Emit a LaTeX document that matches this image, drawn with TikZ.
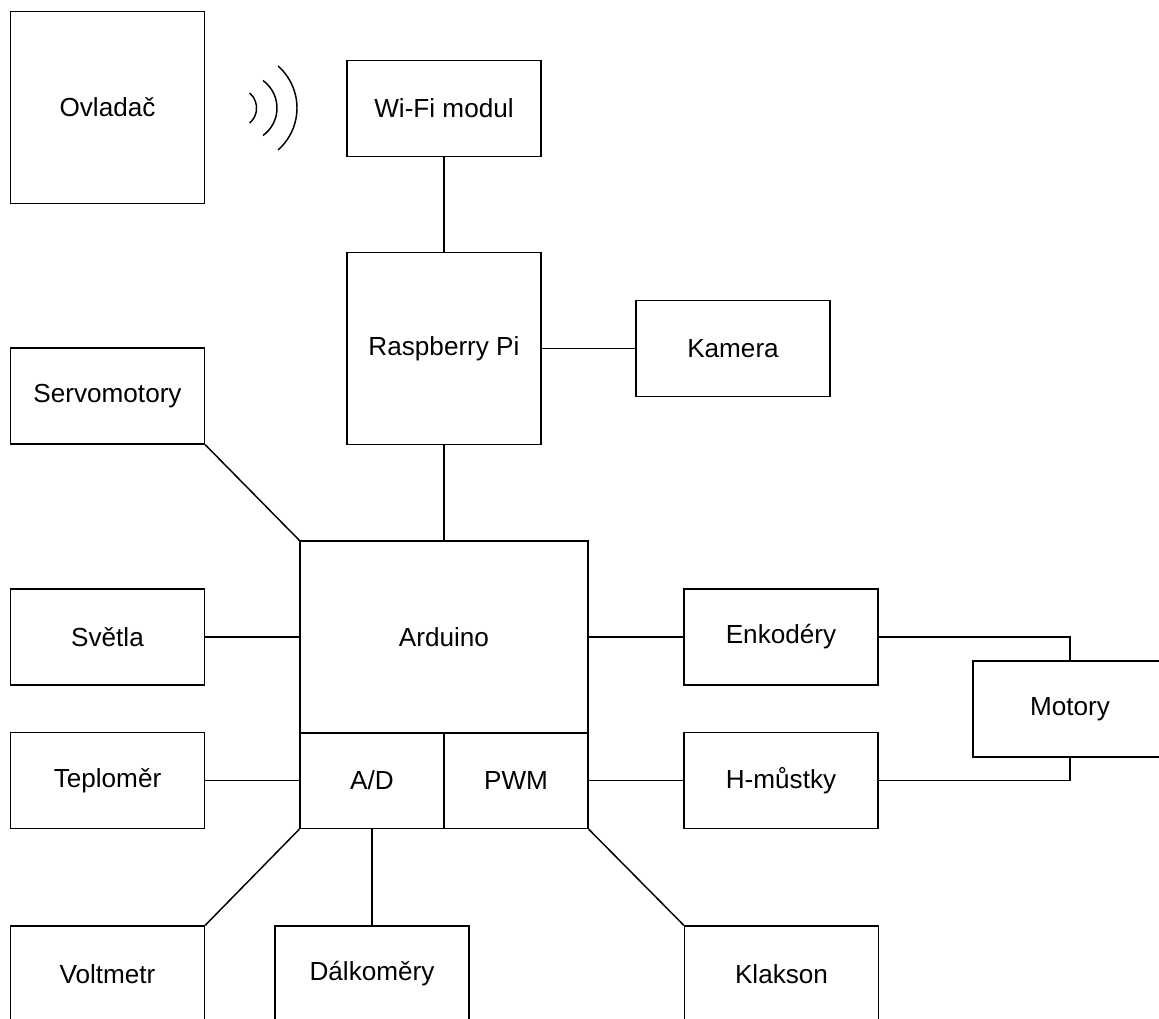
\documentclass[tikz,border=0pt]{standalone}
\usepackage{fontspec}
\setmainfont{Liberation Sans}
\usetikzlibrary{positioning,calc}

\begin{document}
\begin{tikzpicture}[
  x=0.75pt, y=-0.75pt,
  line width=1.1pt,
  box/.style={rectangle, draw, minimum width=145.5pt, minimum height=72pt, font=\fontsize{19.6}{23.5}\selectfont, inner sep=0pt},
  bigbox/.style={box, minimum height=144pt},
  halfbox/.style={box, minimum width=108pt},
  wire/.style={draw},
]
\useasboundingbox (0,0) rectangle (1159,1019);
\clip (0,0) rectangle (1159,1019);

% === Top: remote control and Raspberry Pi ===
\node[bigbox] (ovl) at (107.5,107.5) {Ovladač};
\node[box] (wifi) at (444,108.5) {Wi-Fi modul};
\node[bigbox] (rpi) at (444,348.5) {Raspberry Pi};
\node[box] (kam) at (733,348.5) {Kamera};

% radio waves
\draw ([shift={(-50:19.6)}]237,108) arc[start angle=-50, end angle=50, radius=19.6];
\draw ([shift={(-54:34)}]243,108) arc[start angle=-54, end angle=54, radius=34];
\draw ([shift={(-48.6:56)}]241,108) arc[start angle=-48.6, end angle=48.6, radius=56];

% === Arduino with A/D and PWM ===
\node[bigbox, minimum width=216pt] (ard) at (444,637) {Arduino};
\node[halfbox] (ad) at (372,780.5) {A/D};
\node[halfbox] (pwm) at (516,780.5) {PWM};

% === Peripherals ===
\node[box] (servo) at (107.5,396) {Servomotory};
\node[box] (svetla) at (107.5,637) {Světla};
\node[box] (tepl) at (107.5,780.5) {Teploměr};
\node[box] (volt) at (107.5,974) {Voltmetr};
\node[box] (dalk) at (372,974) {Dálkoměry};
\node[box] (klak) at (781.5,974) {Klakson};
\node[box] (enk) at (781,637) {Enkodéry};
\node[box] (hmus) at (781,780.5) {H-můstky};
\node[box] (motory) at (1070,709) {Motory};

% === Connections ===
\draw[wire] (wifi.south) -- (rpi.north);
\draw[wire] (rpi.east) -- (kam.west);
\draw[wire] (rpi.south) -- (ard.north);
\draw[wire] (servo.south east) -- (ard.north west);
\draw[wire] (svetla.east) -- (ard.west);
\draw[wire] (tepl.east) -- (ad.west);
\draw[wire] (ad.south west) -- (volt.north east);
\draw[wire] (ad.south) -- (dalk.north);
\draw[wire] (pwm.south east) -- (klak.north west);
\draw[wire] (ard.east) -- (enk.west);
\draw[wire] (pwm.east) -- (hmus.west);
\draw[wire] (enk.east) -| (motory.north);
\draw[wire] (hmus.east) -| (motory.south);

\end{tikzpicture}
\end{document}
